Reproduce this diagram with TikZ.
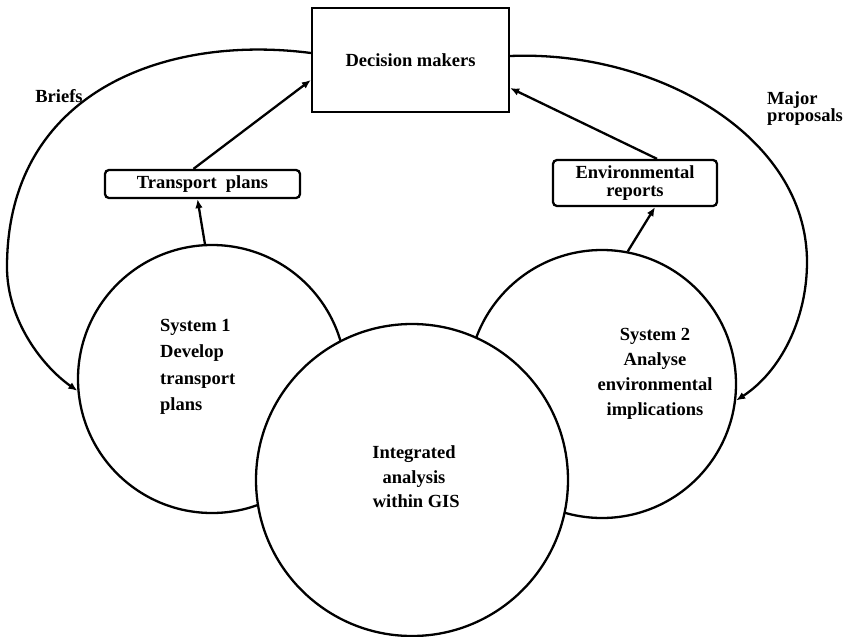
\documentclass[tikz,border=0pt]{standalone}
\usepackage{fontspec}
\setmainfont{Liberation Serif}
\usetikzlibrary{arrows.meta}

\tikzset{
  txt/.style={font=\fontsize{18.5}{#1}\selectfont\bfseries, inner sep=0pt},
  txt/.default=24,
  line/.style={line width=2.3pt},
  flow/.style={line, -{Latex[length=9pt,width=7.5pt]}},
  sysring/.style={circle, draw, line, fill=white, inner sep=0pt, minimum size=#1},
  outbox/.style={draw, line, rounded corners=4pt, fill=white}
}

\begin{document}
\begin{tikzpicture}[x=1pt, y=-1pt]
\useasboundingbox (0,0) rectangle (847,637);

% decision makers and the two products
\node[draw, line, minimum width=197pt, minimum height=104pt, txt] (dm) at (410.5,60) {Decision makers};
\node[outbox, minimum width=195pt, minimum height=28pt, txt] (tp) at (202.5,184) {Transport\ \ plans};
\node[outbox, minimum width=164pt, minimum height=46pt, txt=17.5, align=center] (env) at (635,183) {Environmental\\reports};

% the two systems and the shared GIS core drawn over them
\node[sysring=268pt] (c1) at (212,379) {};
\node[sysring=268pt] (c2) at (602,384) {};
\node[sysring=312pt] (gis) at (412,480) {};

% circle texts
\node[txt=26.5, align=left, anchor=west] (t1) at (160,367) {System 1\\ Develop\\transport\\plans};
\node[txt=25, align=center] (t2) at (655,374) {System 2\\Analyse\\environmental\\implications};
\node[txt=24.5, align=center] (t3) at (414,477) {Integrated\\analysis\\\ within GIS};

% side labels
\node[txt] (briefs) at (59,96) {Briefs};
\node[txt=17.5, align=left, anchor=north west] (major) at (767,91) {Major\\proposals};

% outputs flowing upward
\draw[flow] (c1.93) -- ([xshift=-5pt]tp.south);
\draw[flow] ([xshift=-9pt]tp.north) -- ([yshift=-20pt]dm.west);
\draw[flow] (c2.79) -- ([xshift=20pt]env.south);
\draw[flow] ([xshift=22pt]env.north) -- ([yshift=-28pt]dm.east);

% feedback loops from the decision makers
\coordinate (bl) at (7,267);
\coordinate (br) at (807,262);
\draw[flow] ([yshift=7pt]dm.west) .. controls (165,34) and (7,92) .. (bl)
  .. controls (7,320) and (42,366) .. (c1.185);
\draw[flow] ([yshift=4pt]dm.east) .. controls (655,50) and (807,135) .. (br)
  .. controls (807,320) and (780,372) .. (c2.-7);
\end{tikzpicture}
\end{document}
